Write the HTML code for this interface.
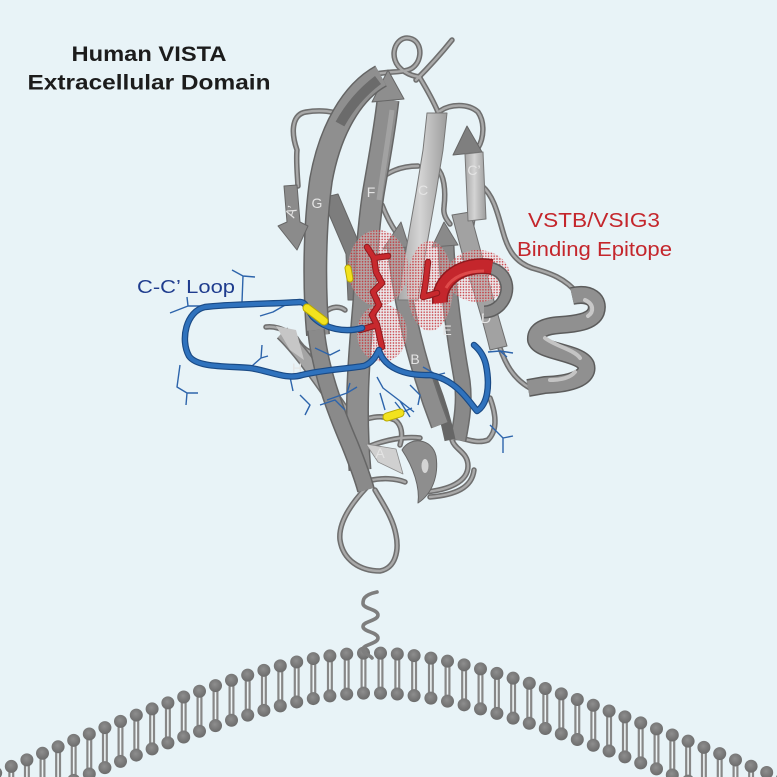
<!DOCTYPE html>
<html><head><meta charset="utf-8"><style>
html,body{margin:0;padding:0;background:#e8f3f7;width:777px;height:777px;overflow:hidden;}
svg{display:block;}
.t{font-family:"Liberation Sans",Arial,sans-serif;}
</style></head><body>
<svg width="777" height="777" viewBox="0 0 777 777" xmlns="http://www.w3.org/2000/svg" overflow="hidden">
<defs>
 <pattern id="dots" width="2.8" height="2.8" patternUnits="userSpaceOnUse"><circle cx="1.4" cy="1.4" r="0.8" fill="#c4262c"/></pattern>
 <linearGradient id="lightH" x1="0" y1="0" x2="1" y2="0"><stop offset="0" stop-color="#a8a8a8"/><stop offset="0.45" stop-color="#d4d4d4"/><stop offset="1" stop-color="#9c9c9c"/></linearGradient>
 <radialGradient id="head" cx="0.45" cy="0.4" r="0.6"><stop offset="0" stop-color="#8e8e8e"/><stop offset="1" stop-color="#6c6c6c"/></radialGradient>
 <clipPath id="frame"><rect width="777" height="777"/></clipPath>
 <path id="t1" d="M372,75 C386,71 398,73 408,70 C422,66 424,44 412,39 C400,34 391,48 395,60 C398,70 410,76 420,77"/>
 <path id="t2" d="M416,80 C426,70 440,55 452,40"/>
 <path id="t3" d="M420,78 C426,88 432,98 438,112"/>
 <path id="t4" d="M440,111 C450,104 468,103 478,112 C485,122 484,138 478,148"/>
 <path id="t5" d="M298,186 C297,170 296,160 297,150 C290,130 293,114 306,112 C318,110 335,110 348,118"/>
 <path id="t6" d="M376,182 C388,172 400,166 418,166"/>
 <path id="t7" d="M382,205 C386,215 391,225 396,232"/>
 <path id="t8" d="M437,168 C444,175 446,190 444,207 C443,214 446,219 450,224"/>
 <path id="t9" d="M473,218 C471,232 468,245 464,258"/>
 <path id="t10" d="M482,186 C494,196 498,215 503,232 C508,250 515,262 532,268 C550,273 565,278 578,294"/>
 <path id="t11" d="M500,348 C505,362 512,378 530,388"/>
 <path id="t12" d="M366,488 C352,503 338,522 340,540 C343,560 360,571 380,571 C396,568 399,550 396,535 C393,518 383,504 375,490"/>
 <path id="t13" d="M356,425 C365,417 382,414 395,420 C402,425 403,435 400,445"/>
 <path id="t14" d="M370,446 C385,440 405,436 420,438"/>
 <path id="t15" d="M372,480 C382,478 395,478 405,482"/>
 <path id="t16" d="M425,492 C448,490 468,482 468,466 C468,452 455,450 452,440 C456,432 472,446 488,440 C498,430 496,414 490,398"/>
 <path id="t17" d="M430,497 C455,495 472,488 474,470"/>
 <path id="t18" d="M325,312 C332,306 340,306 345,310"/>
 <path id="t19" d="M266,327 C272,326 280,328 288,332"/>
 <path id="t20" d="M296,338 C300,345 305,350 310,352"/>
</defs>
<rect width="777" height="777" fill="#e8f3f7"/>

<!-- Title -->
<text class="t" x="149" y="61" text-anchor="middle" font-weight="bold" font-size="21" fill="#1c1c1c" textLength="155" lengthAdjust="spacingAndGlyphs">Human VISTA</text>
<text class="t" x="149" y="89.5" text-anchor="middle" font-weight="bold" font-size="21" fill="#1c1c1c" textLength="243" lengthAdjust="spacingAndGlyphs">Extracellular Domain</text>

<!-- membrane -->
<g id="mem" clip-path="url(#frame)"></g>

<!-- spring -->
<path d="M377,592 C363,595 363,600 363,603.5 C363,609 378,609 378,615 C378,621 363,621 363,626.5 C363,632 378,632 378,638 C378,644 363,644 363,649.5 C363,654 370,655 372,658" fill="none" stroke="#7e7e7e" stroke-width="3.6" stroke-linecap="round"/>

<!-- tubes back -->
<g fill="none" stroke-linecap="round" stroke-linejoin="round">
 <g stroke="#6f6f6f" stroke-width="5.5">
  <use href="#t1"/><use href="#t2"/><use href="#t3"/><use href="#t4"/><use href="#t5"/><use href="#t6"/><use href="#t7"/><use href="#t8"/><use href="#t9"/><use href="#t10"/><use href="#t11"/><use href="#t12"/><use href="#t13"/><use href="#t14"/><use href="#t15"/><use href="#t16"/><use href="#t17"/><use href="#t18"/><use href="#t19"/><use href="#t20"/>
 </g>
 <g stroke="#a9a9a9" stroke-width="2.4">
  <use href="#t1"/><use href="#t2"/><use href="#t3"/><use href="#t4"/><use href="#t5"/><use href="#t6"/><use href="#t7"/><use href="#t8"/><use href="#t9"/><use href="#t10"/><use href="#t11"/><use href="#t12"/><use href="#t13"/><use href="#t14"/><use href="#t15"/><use href="#t16"/><use href="#t17"/><use href="#t18"/><use href="#t19"/><use href="#t20"/>
 </g>
</g>

<!-- ribbons -->
<g fill="none" stroke-linejoin="round">
 <!-- D -->
 <path d="M452,215 L470,212 C478,240 488,280 498,315 L507,346 L490,350 C484,325 474,292 466,268 Z" fill="#a2a2a2" stroke="#6e6e6e" stroke-width="1"/>
 <!-- E -->
 <path d="M446,245 C448,290 455,340 462,380 C465,400 462,420 458,440" stroke="#6a6a6a" stroke-width="17"/>
 <path d="M446,245 C448,290 455,340 462,380 C465,400 462,420 458,440" stroke="#898989" stroke-width="14"/>
 <polygon points="444,222 432,247 458,245" fill="#8a8a8a" stroke="#6a6a6a" stroke-width="1"/>
 <!-- dark lower ribbon -->
 <path d="M432,380 C440,400 446,420 450,440" stroke="#666" stroke-width="11"/>
 <!-- B -->
 <path d="M396,245 C402,300 415,360 440,425" stroke="#6a6a6a" stroke-width="19"/>
 <path d="M396,245 C402,300 415,360 440,425" stroke="#8d8d8d" stroke-width="16"/>
 <polygon points="401,222 383,249 409,247" fill="#8a8a8a" stroke="#6a6a6a" stroke-width="1"/>
 <!-- C (extends behind) -->
 <polygon points="427,113 447,113 443,150 436,193 426,250 418,300 398,300 406,250 416,193 423,150" fill="url(#lightH)" stroke="#777" stroke-width="1"/>
 <!-- X strand -->
 <polygon points="322,198 338,194 362,250 364,300 348,300 346,254" fill="#7d7d7d" stroke="#666" stroke-width="1"/>
 <!-- H -->
 <path d="M282,333 C300,350 320,380 345,415 C352,425 358,432 362,440" stroke="#6d6d6d" stroke-width="15"/>
 <path d="M282,333 C300,350 320,380 345,415 C352,425 358,432 362,440" stroke="#a4a4a4" stroke-width="12"/>
 <polygon points="276,326 296,330 304,360 290,350" fill="#c6c6c6"/>
 <!-- F -->
 <path d="M388,100 C384,135 378,165 373,195 C368,230 366,265 364,300 C360,350 354,400 360,470" stroke="#666" stroke-width="23"/>
 <path d="M388,100 C384,135 378,165 373,195 C368,230 366,265 364,300 C360,350 354,400 360,470" stroke="#8e8e8e" stroke-width="20"/>
 <path d="M392,110 C388,140 383,170 379,200" stroke="#a2a2a2" stroke-width="5"/>
 <polygon points="388,70 372,102 404,99" fill="#8e8e8e" stroke="#666" stroke-width="1"/>
 <!-- G -->
 <path d="M381,76 C352,92 330,130 321,180 C314,230 314,290 318,335" stroke="#646464" stroke-width="24"/>
 <path d="M381,76 C352,92 330,130 321,180 C314,230 314,290 318,335" stroke="#8f8f8f" stroke-width="21"/>
 <path d="M378,80 C362,92 350,106 340,124" stroke="#6b6b6b" stroke-width="10"/>
 <path d="M316,330 C320,370 335,410 350,445 C356,460 362,475 366,490" stroke="#666" stroke-width="18"/>
 <path d="M316,330 C320,370 335,410 350,445 C356,460 362,475 366,490" stroke="#8a8a8a" stroke-width="15"/>
 <!-- A' -->
 <polygon points="284,186 297,185 300,222 308,226 297,250 278,226 287,222" fill="#8b8b8b" stroke="#666" stroke-width="1"/>
 <!-- C' -->
 <polygon points="467,126 453,155 482,152" fill="#7f7f7f" stroke="#666" stroke-width="1"/>
 <polygon points="465,154 483,152 486,219 468,221" fill="url(#lightH)" stroke="#777" stroke-width="1"/>
 <!-- small bottom helix -->
 <path d="M402,450 C410,436 432,438 436,456 C439,476 432,494 418,503 C420,488 414,468 402,450 Z" fill="#8e8e8e" stroke="#666" stroke-width="1"/>
 <ellipse cx="425" cy="466" rx="3.5" ry="7" fill="#d4d4d4"/>
 <polygon points="366,444 396,449 403,474 378,462" fill="#d0d0d0" stroke="#8a8a8a" stroke-width="0.8"/>
 <!-- right helix -->
 <path d="M572,296 C590,292 600,300 596,312 C592,322 575,324 560,325 C545,326 535,330 536,340 C540,352 580,352 586,365 C590,378 570,384 545,385 L528,388" stroke="#5c5c5c" stroke-width="18" stroke-linecap="butt"/>
 <path d="M572,296 C590,292 600,300 596,312 C592,322 575,324 560,325 C545,326 535,330 536,340 C540,352 580,352 586,365 C590,378 570,384 545,385 L528,388" stroke="#909090" stroke-width="15" stroke-linecap="butt"/>
 <path d="M585,300 C594,304 594,312 588,316" stroke="#c8c8c8" stroke-width="4" stroke-linecap="round"/>
 <path d="M545,338 C555,346 575,350 580,358" stroke="#c4c4c4" stroke-width="4" stroke-linecap="round"/>
 <path d="M575,372 C570,378 560,380 550,380" stroke="#c4c4c4" stroke-width="4" stroke-linecap="round"/>
</g>

<!-- strand labels -->
<g class="t" font-size="14" fill="#e4e4e4" text-anchor="middle">
 <text x="292" y="216" transform="rotate(-72 292 212)">A’</text>
 <text x="317" y="208">G</text>
 <text x="371" y="197">F</text>
 <text x="423" y="195">C</text>
 <text x="474" y="175">C’</text>
 <text x="486" y="323">D</text>
 <text x="447" y="335">E</text>
 <text x="415" y="364">B</text>
 <text x="297" y="373">H</text>
 <text x="380" y="458">A</text>
</g>

<!-- red dotted surfaces -->
<g fill="#f3d6d6" opacity="0.35">
 <ellipse cx="378" cy="268" rx="30" ry="38"/>
 <ellipse cx="382" cy="333" rx="25" ry="29"/>
 <ellipse cx="430" cy="286" rx="23" ry="45"/>
 <ellipse cx="478" cy="276" rx="32" ry="26"/>
</g>
<g fill="url(#dots)" opacity="0.9">
 <ellipse cx="378" cy="268" rx="30" ry="38"/>
 <ellipse cx="382" cy="333" rx="25" ry="29"/>
 <ellipse cx="430" cy="286" rx="23" ry="45"/>
 <ellipse cx="478" cy="276" rx="32" ry="26"/>
</g>

<!-- red helix -->
<path d="M490,268 C508,272 512,292 500,305 C495,310 490,312 484,312" fill="none" stroke="#5f5f5f" stroke-width="13"/>
<path d="M490,268 C508,272 512,292 500,305 C495,310 490,312 484,312" fill="none" stroke="#8a8a8a" stroke-width="10"/>
<path d="M440,303 C438,280 462,262 492,267" fill="none" stroke="#8e1a1e" stroke-width="16"/>
<path d="M440,303 C438,280 462,262 492,267" fill="none" stroke="#c4262c" stroke-width="13"/>
<path d="M446,288 C452,277 466,271 484,271" fill="none" stroke="#de4a4a" stroke-width="3"/>

<!-- red sticks -->
<g fill="none" stroke-linecap="round" stroke-linejoin="round">
 <path d="M367,247 L374,258 L388,256 M374,258 L376,272 L382,283 L373,292 L379,305 L372,315 L377,325 L382,347 M377,325 L360,330" stroke="#8e1a1e" stroke-width="6.5"/>
 <path d="M367,247 L374,258 L388,256 M374,258 L376,272 L382,283 L373,292 L379,305 L372,315 L377,325 L382,347 M377,325 L360,330" stroke="#c8292e" stroke-width="4.5"/>
 <path d="M428,262 L425,287 L423,297 L437,293" stroke="#8e1a1e" stroke-width="6.5"/>
 <path d="M428,262 L425,287 L423,297 L437,293" stroke="#c8292e" stroke-width="4.5"/>
</g>

<!-- blue sticks -->
<g fill="none" stroke="#2d64ab" stroke-width="1.4" stroke-linejoin="round">
 <path d="M232,270 L243,276 L255,277 M243,276 L242,302"/>
 <path d="M170,313 L188,306 L200,306 M188,306 L187,297"/>
 <path d="M180,365 L177,387 L187,393 L198,393 M187,393 L186,405"/>
 <path d="M262,345 L261,358 L268,356 M261,358 L252,366"/>
 <path d="M287,304 L273,312 L260,316"/>
 <path d="M290,377 L293,391"/>
 <path d="M377,377 L383,388 L400,401 L410,417 M400,401 L414,412"/>
 <path d="M327,400 L347,393 L357,387 M347,393 L350,383"/>
 <path d="M488,352 L500,351 L507,357 M500,351 L513,353"/>
 <path d="M490,425 L503,438 L503,453 M503,438 L513,436"/>
 <path d="M423,367 L437,375 L445,373"/>
 <path d="M320,405 L335,400 L345,410"/>
 <path d="M380,393 L385,410 M395,402 L403,412 L412,408"/>
 <path d="M300,395 L310,405 L305,415"/>
 <path d="M315,348 L330,355 L340,350"/>
 <path d="M410,385 L420,395 L418,405"/>
</g>

<!-- blue tube -->
<g fill="none" stroke-linecap="round" stroke-linejoin="round">
 <path d="M362,328 C345,333 325,329 313,317 C307,309 306,302 300,302 C272,304 230,304 205,307 C186,311 180,340 189,356 C197,368 228,366 250,368 C270,371 286,380 302,375 C322,370 345,369 364,366 C372,363 376,356 379,350" stroke="#1a4a85" stroke-width="6.5"/>
 <path d="M380,353 C385,366 402,376 430,375 C455,379 468,400 477,411 C488,404 490,385 486,365 C484,356 480,350 474,345" stroke="#1a4a85" stroke-width="6.5"/>
 <path d="M362,328 C345,333 325,329 313,317 C307,309 306,302 300,302 C272,304 230,304 205,307 C186,311 180,340 189,356 C197,368 228,366 250,368 C270,371 286,380 302,375 C322,370 345,369 364,366 C372,363 376,356 379,350" stroke="#2f72bd" stroke-width="4.2"/>
 <path d="M380,353 C385,366 402,376 430,375 C455,379 468,400 477,411 C488,404 490,385 486,365 C484,356 480,350 474,345" stroke="#2f72bd" stroke-width="4.2"/>
</g>

<!-- yellow -->
<g stroke-linecap="round" fill="none">
 <path d="M348,268 L350,279" stroke="#b8a800" stroke-width="7"/>
 <path d="M348,268 L350,279" stroke="#f2e21e" stroke-width="5"/>
 <path d="M307,308 L324,321" stroke="#b8a800" stroke-width="9"/>
 <path d="M307,308 L324,321" stroke="#f2e21e" stroke-width="7"/>
 <path d="M387,417 L400,413" stroke="#b8a800" stroke-width="9"/>
 <path d="M387,417 L400,413" stroke="#f2e21e" stroke-width="7"/>
</g>

<!-- labels -->
<text class="t" x="137" y="293" font-size="18" fill="#1f3c8e" textLength="98" lengthAdjust="spacingAndGlyphs">C-C’ Loop</text>
<text class="t" x="528" y="227" font-size="20" fill="#c4262c" textLength="132" lengthAdjust="spacingAndGlyphs">VSTB/VSIG3</text>
<text class="t" x="517" y="256" font-size="20" fill="#c4262c" textLength="155" lengthAdjust="spacingAndGlyphs">Binding Epitope</text>

<script>
(function(){
 var ns="http://www.w3.org/2000/svg";
 var g=document.getElementById('mem');
 function yTop(x){var dx=x-372;var b=dx<0?133:140;var r=dx/b;return 653+60*(Math.sqrt(1+r*r)-1);}
 var xs=[];
 function walk(x0,dir){var x=x0;xs.push(x);var guard=0;while(x>-10&&x<787&&guard<200){guard++;var s=0;var xp=x;while(s<16.8){var xn=xp+dir*0.2;var dy=yTop(xn)-yTop(xp);s+=Math.sqrt(0.04+dy*dy);xp=xn;}x=xp;xs.push(x);}}
 walk(380.5,1);walk(363.5,-1);
 var tails=document.createElementNS(ns,'g');var heads=document.createElementNS(ns,'g');
 g.appendChild(tails);g.appendChild(heads);
 xs.forEach(function(x){
  var y=yTop(x);
  if(x<-6||x>783||y>782) return;
  var h=Math.min(40,777-y); if(h<0) h=0;
  if(h>0){
   var r1=document.createElementNS(ns,'rect');
   r1.setAttribute('x',x-3);r1.setAttribute('y',y);r1.setAttribute('width',6);r1.setAttribute('height',h);r1.setAttribute('fill','#878787');
   tails.appendChild(r1);
   var r2=document.createElementNS(ns,'rect');
   r2.setAttribute('x',x-0.8);r2.setAttribute('y',y);r2.setAttribute('width',1.6);r2.setAttribute('height',h);r2.setAttribute('fill','#eef4f6');
   tails.appendChild(r2);
  }
  [y,y+40].forEach(function(yy){
   if(yy>783) return;
   var c=document.createElementNS(ns,'circle');
   c.setAttribute('cx',x);c.setAttribute('cy',yy);c.setAttribute('r',6.5);c.setAttribute('fill','url(#head)');
   heads.appendChild(c);
  });
 });
})();
</script>
</svg>
</body></html>
